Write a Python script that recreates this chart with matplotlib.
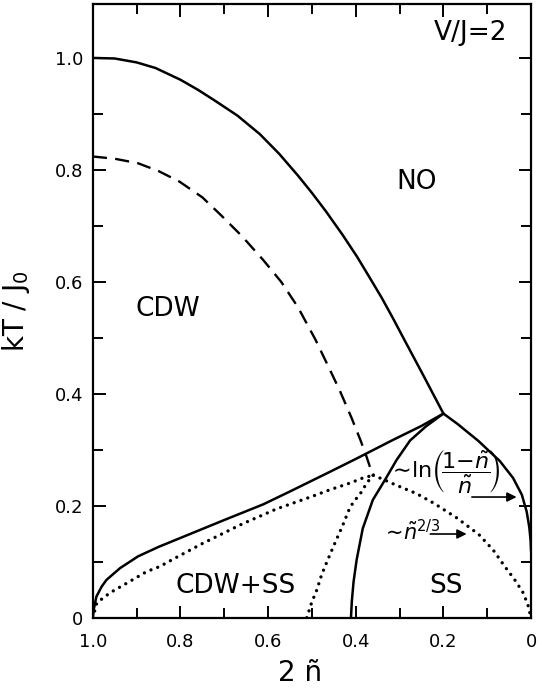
import matplotlib
matplotlib.use("Agg")
import matplotlib.pyplot as plt
from matplotlib.ticker import MultipleLocator, FuncFormatter

# phase boundaries: x = 2*n~, y = kT/J0
upper_x = [1.0, 0.95, 0.90, 0.857, 0.80, 0.76, 0.722, 0.67, 0.619, 0.575, 0.532,
           0.50, 0.468, 0.43, 0.397, 0.37, 0.341, 0.315, 0.290, 0.245, 0.20]
upper_y = [1.0, 0.999, 0.992, 0.982, 0.961, 0.943, 0.924, 0.897, 0.864, 0.829, 0.790,
           0.759, 0.726, 0.684, 0.645, 0.610, 0.572, 0.535, 0.498, 0.432, 0.365]

dashed_x = [1.0, 0.95, 0.897, 0.85, 0.802, 0.75, 0.706, 0.66, 0.611, 0.57,
            0.532, 0.492, 0.465, 0.437, 0.41, 0.389, 0.375, 0.361]
dashed_y = [0.824, 0.820, 0.812, 0.798, 0.779, 0.751, 0.718, 0.682, 0.639, 0.600,
            0.555, 0.497, 0.453, 0.407, 0.358, 0.317, 0.287, 0.254]

lower_x = [1.0, 0.998, 0.992, 0.98, 0.969, 0.938, 0.897, 0.85, 0.80, 0.75,
           0.70, 0.611, 0.55, 0.459, 0.40, 0.315, 0.25, 0.20]
lower_y = [0.0, 0.015, 0.038, 0.056, 0.068, 0.089, 0.110, 0.127, 0.143, 0.159,
           0.175, 0.203, 0.226, 0.261, 0.284, 0.318, 0.343, 0.365]

ss_left_x = [0.411, 0.409, 0.405, 0.398, 0.384, 0.361, 0.333, 0.307, 0.276, 0.24, 0.20]
ss_left_y = [0.0, 0.03, 0.065, 0.104, 0.160, 0.211, 0.247, 0.282, 0.317, 0.342, 0.365]

ss_right_x = [0.20, 0.167, 0.12, 0.071, 0.041, 0.021, 0.010, 0.004, 0.001, 0.0]
ss_right_y = [0.365, 0.346, 0.316, 0.280, 0.250, 0.220, 0.190, 0.162, 0.138, 0.12]

dot_a_x = [1.0, 0.991, 0.961, 0.923, 0.877, 0.847, 0.817, 0.75, 0.659, 0.58,
           0.50, 0.459, 0.413, 0.384, 0.36]
dot_a_y = [0.0, 0.027, 0.045, 0.062, 0.083, 0.092, 0.105, 0.133, 0.168, 0.195,
           0.217, 0.229, 0.241, 0.250, 0.255]

dot_b_x = [0.36, 0.345, 0.307, 0.261, 0.222, 0.17, 0.119, 0.086, 0.059, 0.037,
           0.018, 0.007, 0.0]
dot_b_y = [0.255, 0.250, 0.237, 0.222, 0.205, 0.179, 0.149, 0.121, 0.091, 0.068,
           0.045, 0.023, 0.0]

dot_c_x = [0.36, 0.375, 0.387, 0.40, 0.413, 0.43, 0.452, 0.466, 0.478, 0.489, 0.501, 0.512]
dot_c_y = [0.255, 0.241, 0.225, 0.212, 0.198, 0.165, 0.126, 0.100, 0.077, 0.050, 0.027, 0.0]

plt.rcParams["font.family"] = ["DejaVu Sans"]
plt.rcParams["mathtext.fontset"] = "dejavusans"

fig = plt.figure(figsize=(5.43, 6.94), dpi=100)
ax = fig.add_axes([0.171, 0.1095, 0.807, 0.8845])

solid = dict(color="black", lw=1.8, solid_capstyle="round", solid_joinstyle="round")
ax.plot(upper_x, upper_y, **solid)
ax.plot(lower_x, lower_y, **solid)
ax.plot(ss_left_x, ss_left_y, **solid)
ax.plot(ss_right_x, ss_right_y, **solid)
ax.plot(dashed_x, dashed_y, color="black", lw=1.7, linestyle=(0, (6, 3.5)))

dotted = dict(color="black", lw=2.4, linestyle=(0, (0.01, 2.15)), dash_capstyle="round")
ax.plot(dot_a_x, dot_a_y, **dotted)
ax.plot(dot_b_x, dot_b_y, **dotted)
ax.plot(dot_c_x, dot_c_y, **dotted)

ax.set_xlim(1.0, 0.0)
ax.set_ylim(0.0, 1.096)

for loc in ax.xaxis, ax.yaxis:
    loc.set_major_locator(MultipleLocator(0.2))
    loc.set_minor_locator(MultipleLocator(0.1))
fmt = FuncFormatter(lambda v, p: "0" if abs(v) < 1e-9 else f"{v:.1f}")
ax.xaxis.set_major_formatter(fmt)
ax.yaxis.set_major_formatter(fmt)
ax.tick_params(which="both", direction="in", top=True, right=True, width=1.4,
               labelsize=13)
ax.tick_params(which="major", length=9)
ax.tick_params(which="minor", length=7)
ax.tick_params(axis="x", pad=11)
ax.tick_params(axis="y", pad=7)
for s in ax.spines.values():
    s.set_linewidth(1.6)

ax.set_xlabel("2 ñ", fontsize=20)
ax.xaxis.set_label_coords((300 - 93) / 438, -0.066)
ax.set_ylabel(r"kT / J$_0$", fontsize=20)
ax.yaxis.set_label_coords(-0.14, 0.5)

ax.text(0.137, 1.045, "V/J=2", fontsize=19, ha="center", va="center")
ax.text(0.26, 0.779, "NO", fontsize=19, ha="center", va="center")
ax.text(0.828, 0.552, "CDW", fontsize=19, ha="center", va="center")
ax.text(0.675, 0.057, "CDW+SS", fontsize=19, ha="center", va="center")
ax.text(0.194, 0.057, "SS", fontsize=19, ha="center", va="center")

ax.text(0.198, 0.262,
        r"$\sim\!\ln\!\left(\!\dfrac{1{-}\tilde{n}}{\tilde{n}}\!\right)$",
        fontsize=16, ha="center", va="center")
ax.text(0.275, 0.155, r"$\sim\!\tilde{n}^{2/3}$", fontsize=15, ha="center", va="center")

arrow = dict(arrowstyle="-|>", lw=1.2, color="black", mutation_scale=14,
             shrinkA=0, shrinkB=0)
ax.annotate("", xy=(0.033, 0.216), xytext=(0.135, 0.216), arrowprops=arrow)
ax.annotate("", xy=(0.147, 0.150), xytext=(0.230, 0.150), arrowprops=arrow)

fig.savefig("out.png", dpi=100)
